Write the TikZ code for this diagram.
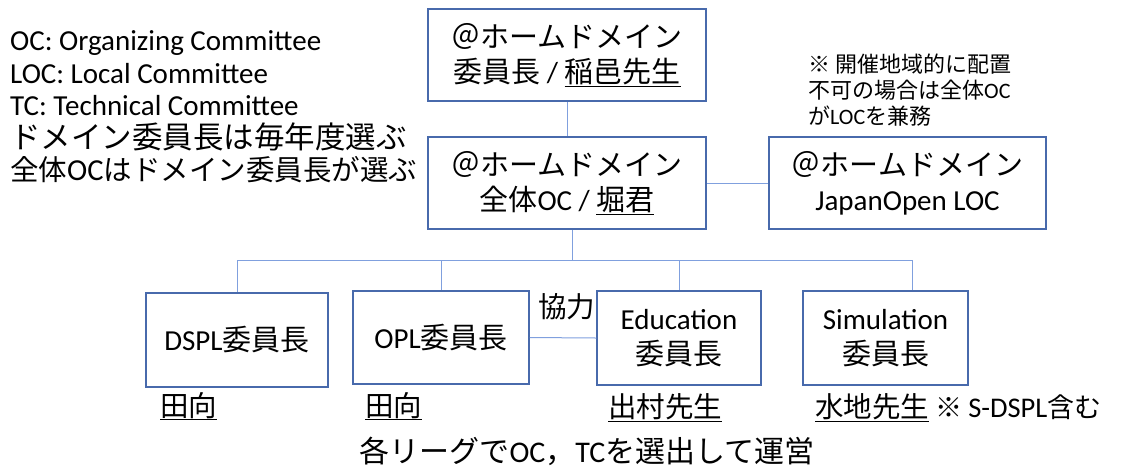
\documentclass[tikz,border=0pt]{standalone}
\usepackage{fontspec}
\setmainfont{Carlito}
\newfontfamily\jp{Noto Sans CJK JP}
\newcommand\J[1]{{\jp #1}}
\definecolor{boxc}{RGB}{72,106,172}
\definecolor{linec}{RGB}{128,160,222}
\begin{document}
\begin{tikzpicture}[x=1pt,y=-1pt,
  box/.style={draw=boxc, line width=1.5pt, inner sep=0pt, align=center, font=\fontsize{29}{35}\selectfont},
  conn/.style={draw=linec, line width=1pt},
  lbl/.style={inner sep=0pt, anchor=base west},
  big/.style={font=\fontsize{28.5}{33}\selectfont},
  leg/.style={font=\fontsize{29}{33}\selectfont},
  small/.style={font=\fontsize{22}{26}\selectfont}]
\useasboundingbox (0,0) rectangle (1142,475);

% legend
\node[lbl, leg] (l1) at (10,50) {OC: Organizing Committee};
\node[lbl, leg] (l2) at (10,83) {LOC: Local Committee};
\node[lbl, leg] (l3) at (10,115) {TC: Technical Committee};
\node[lbl, font=\fontsize{30.5}{33}\selectfont] (l4) at (10,148) {\J{ドメイン委員長は毎年度選ぶ}};
\node[lbl, font=\fontsize{28.5}{33}\selectfont] (l5) at (10,180) {\J{全体}{\fontsize{30.5}{33}\selectfont OC}\J{はドメイン委員長が選ぶ}};

% note top right
\node[lbl, small] (n1) at (808,72) {\J{※ 開催地域的に配置}};
\node[lbl, small] (n2) at (808,98) {\J{不可の場合は全体}OC};
\node[lbl, small] (n3) at (808,124) {\J{が}LOC\J{を兼務}};

% boxes
\node[box, minimum width=278pt, minimum height=92pt] (chair) at (567,55)
  {\J{＠ホームドメイン}\\\J{委員長} / \underline{\J{稲邑先生}}};
\node[box, minimum width=278pt, minimum height=92pt] (oc) at (567,183)
  {\J{＠ホームドメイン}\\\J{全体}OC / \underline{\J{堀君}}};
\node[box, minimum width=277pt, minimum height=92pt] (loc) at (907.5,183)
  {\J{＠ホームドメイン}\\JapanOpen LOC};

\node[box, minimum width=182pt, minimum height=94pt] (dspl) at (237,340) {DSPL\J{委員長}};
\node[box, minimum width=176pt, minimum height=93pt] (opl) at (441,337.5) {OPL\J{委員長}};
\node[box, minimum width=164pt, minimum height=94pt] (edu) at (679,338) {Education\\\J{委員長}};
\node[box, minimum width=165pt, minimum height=94pt] (sim) at (885.5,338) {Simulation\\\J{委員長}};

% connectors
\coordinate (hub) at (572,260);
\coordinate (hl) at (237,260);
\coordinate (hr) at (912,260);
\draw[conn] (chair.south) -- (oc.north);
\draw[conn] (oc.east) -- (loc.west);
\draw[conn] (oc.south -| hub) -- (hub);
\draw[conn] (hl) -- (hr);
\draw[conn] (hl) -- (dspl.north);
\draw[conn] (opl.north |- hl) -- (opl.north);
\draw[conn] (edu.north |- hl) -- (edu.north);
\draw[conn] (hr) -- (hr |- sim.north);
\draw[conn] (opl.east) -- (edu.west);

\node[lbl, big] (kyo) at (538,317) {\J{協力}};

% names
\node[lbl, big] (m1) at (160,416) {\underline{\J{田向}}};
\node[lbl, big] (m2) at (365,416) {\underline{\J{田向}}};
\node[lbl, big] (m3) at (608,417) {\underline{\J{出村先生}}};
\node[lbl, big] (m4) at (815,417) {\underline{\J{水地先生}}};
\node[lbl, font=\fontsize{27}{33}\selectfont] (m5) at (935,417) {\J{※} {\fontsize{28.5}{33}\selectfont S-DSPL}\J{含む}};

\node[inner sep=0pt, anchor=base, font=\fontsize{30}{33}\selectfont] (foot) at (587,462)
  {\J{各リーグで}OC\J{，}TC\J{を選出して運営}};
\end{tikzpicture}
\end{document}
